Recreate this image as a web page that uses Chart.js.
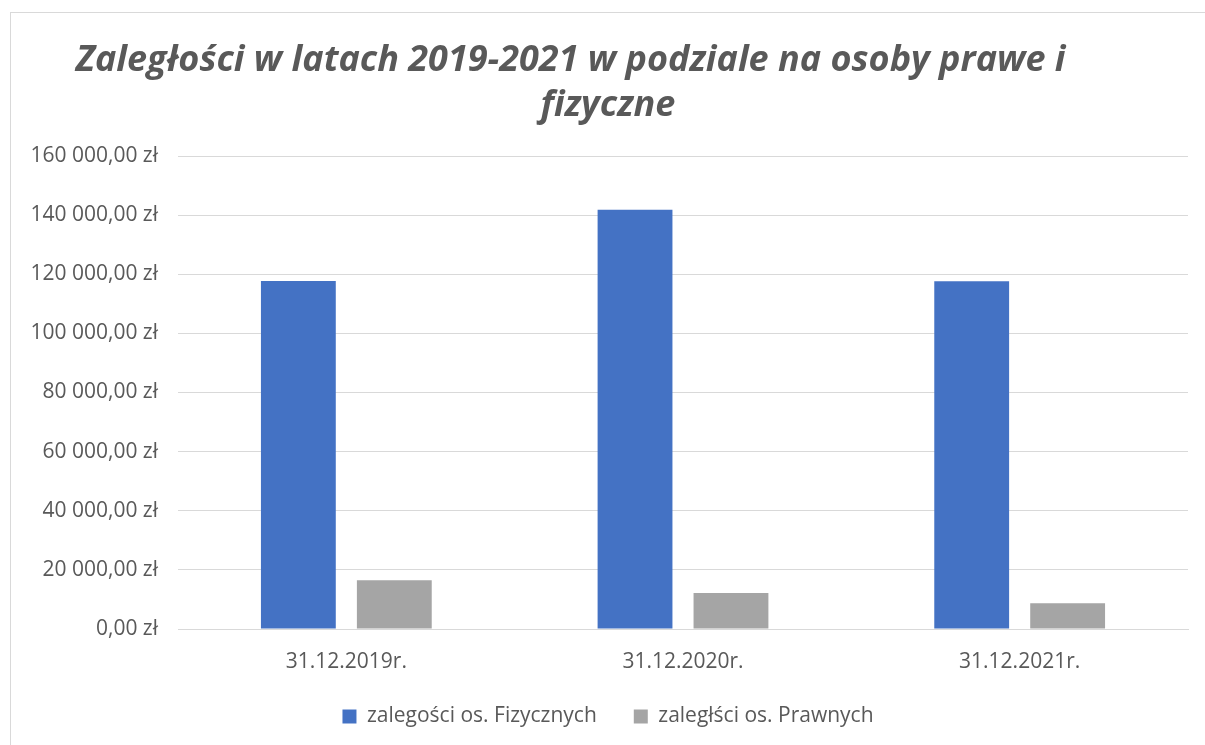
<!DOCTYPE html>
<html lang="pl">
<head>
    <meta charset="UTF-8">
    <title>Zaległości 2019-2021</title>
    <script src="https://cdn.jsdelivr.net/npm/chart.js"></script>
    <style>
        body {
            margin: 0;
            background-color: #ffffff;
            font-family: "Open Sans", Arial, sans-serif;
        }
        .frame {
            position: absolute;
            left: 10px;
            top: 12px;
            width: 1200px;
            height: 740px;
            border: 1px solid #d9d9d9;
        }
        .chart-box {
            position: absolute;
            left: 0;
            top: 0;
            width: 1205px;
            height: 745px;
        }
    </style>
</head>
<body>
    <div class="frame"></div>
    <div class="chart-box">
        <canvas id="barChart"></canvas>
    </div>

    <script>
        const kategorie = ['31.12.2019r.', '31.12.2020r.', '31.12.2021r.'];
        const fizyczne = [117700, 141800, 117600];
        const prawne = [16500, 12200, 8700];
        // nbsp na końcu pierwszej linii przesuwa ją lekko w lewo, jak w oryginale
        const tytul = ['Zaległości w latach 2019-2021 w podziale na osoby prawe i\u00a0\u00a0\u00a0\u00a0\u00a0\u00a0\u00a0\u00a0', 'fizyczne'];

        function formatZl(v) {
            const calk = Math.round(v).toString().replace(/\B(?=(\d{3})+(?!\d))/g, ' ');
            return calk + ',00 zł';
        }

        const ctx = document.getElementById('barChart').getContext('2d');
        new Chart(ctx, {
            type: 'bar',
            data: {
                labels: kategorie,
                datasets: [
                    {
                        label: 'zalegości os. Fizycznych',
                        data: fizyczne,
                        backgroundColor: '#4472c4',
                        barPercentage: 0.78,
                        categoryPercentage: 0.57
                    },
                    {
                        label: 'zaległści os. Prawnych',
                        data: prawne,
                        backgroundColor: '#a5a5a5',
                        barPercentage: 0.78,
                        categoryPercentage: 0.57
                    }
                ]
            },
            options: {
                responsive: true,
                maintainAspectRatio: false,
                animation: false,
                layout: {
                    padding: { left: 28, right: 17, top: 38, bottom: 8 }
                },
                plugins: {
                    title: {
                        display: true,
                        text: tytul,
                        color: '#595959',
                        font: { family: '"Open Sans"', size: 36, style: 'italic', weight: 'bold', lineHeight: 1.25 },
                        padding: { top: 0, bottom: 28 }
                    },
                    legend: {
                        position: 'bottom',
                        labels: {
                            color: '#595959',
                            font: { family: '"Open Sans"', size: 21 },
                            boxWidth: 14,
                            boxHeight: 14,
                            padding: 37
                        }
                    },
                    tooltip: { enabled: false }
                },
                scales: {
                    x: {
                        grid: { display: false },
                        border: { color: '#d9d9d9' },
                        ticks: {
                            color: '#595959',
                            font: { family: '"Open Sans"', size: 21 },
                            padding: 12
                        },
                        afterFit: scale => { scale.height = 40; }
                    },
                    y: {
                        min: 0,
                        max: 160000,
                        ticks: {
                            stepSize: 20000,
                            color: '#595959',
                            font: { family: '"Open Sans"', size: 21 },
                            padding: 20,
                            callback: v => formatZl(v)
                        },
                        grid: { color: '#d9d9d9', drawTicks: false },
                        border: { display: false },
                        afterFit: scale => { scale.width = 150; }
                    }
                }
            }
        });
    </script>
</body>
</html>
